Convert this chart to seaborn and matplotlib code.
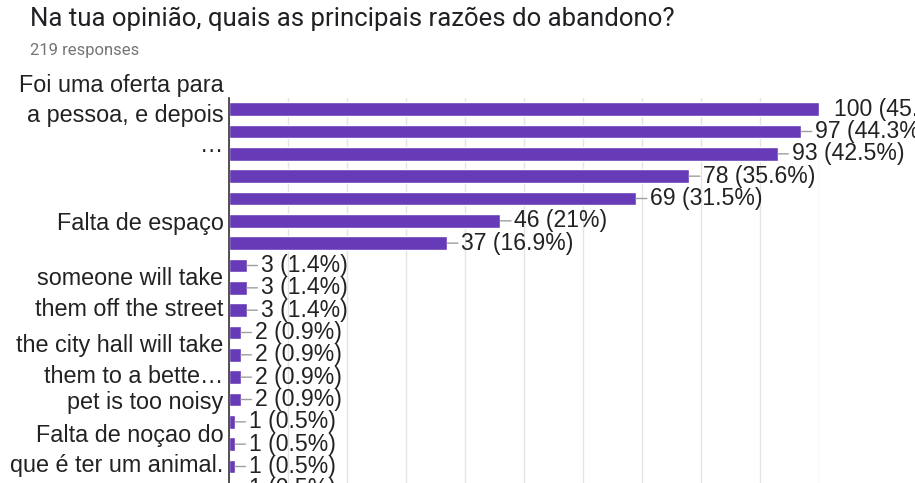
import pandas as pd
import numpy as np
import seaborn as sns
import matplotlib.pyplot as plt

# data (Google Forms summary, cropped)
title = "Na tua opinião, quais as principais razões do abandono?"
n_responses = 219
counts = [100, 97, 93, 78, 69, 46, 37, 3, 3, 3, 2, 2, 2, 2, 1, 1, 1, 1]
# only some category labels are visible in the chart, the rest are hidden
shown_labels = [
    "Foi uma oferta para\na pessoa, e depois\n…", "", "", "", "",
    "Falta de espaço", "", "",
    "someone will take\nthem off the street", "", "",
    "the city hall will take\nthem to a bette…", "",
    "pet is too noisy", "",
    "Falta de noçao do\nque é ter um animal.", "", "",
]
x_ticks = list(range(0, 101, 10))


def fmt_label(c, total):
    pct = f"{100 * c / total:.1f}"
    if pct.endswith(".0"):
        pct = pct[:-2]
    return f"{c} ({pct}%)"


df = pd.DataFrame({"key": [f"r{i}" for i in range(len(counts))], "count": counts})

sns.set_theme(style="white")
plt.rcParams["font.family"] = ["Liberation Sans", "DejaVu Sans"]

fig, ax = plt.subplots(figsize=(9.15, 4.83), dpi=100)
# plot area runs past the bottom edge, as in the cropped screenshot
ax.set_position([229 / 915, 1 - 500 / 483, 590 / 915, 402 / 483])

sns.barplot(data=df, x="count", y="key", orient="h", color="#673ab7",
            saturation=1, width=0.6, ax=ax, zorder=3)

ax.set_xlim(0, 100)
ax.set_ylim(len(counts) - 0.5, -0.5)
ax.set_xticks(x_ticks)
ax.set_xticklabels([])
ax.xaxis.grid(True, color="#e4e4e4", lw=1, zorder=0)
ax.set_axisbelow(True)
ax.set_xlabel("")
ax.set_ylabel("")
ax.set_yticks(range(len(counts)))
ax.set_yticklabels(shown_labels, fontsize=16.8, color="#222222", linespacing=1.4)
ax.tick_params(axis="both", length=0, pad=4)

for s in ["top", "right", "bottom"]:
    ax.spines[s].set_visible(False)
ax.spines["left"].set_color("#333333")
ax.spines["left"].set_linewidth(1.2)
ax.spines["left"].set_zorder(4)

for i, c in enumerate(counts):
    kw = {}
    if c < ax.get_xlim()[1]:
        kw["arrowprops"] = dict(arrowstyle="-", color="#9e9e9e", lw=1,
                                shrinkA=0, shrinkB=0)
        off = 10
    else:
        off = 11
    ax.annotate(fmt_label(c, n_responses), xy=(c, i), xytext=(off, 0),
                textcoords="offset points", va="center", ha="left",
                fontsize=16.6, color="#222222", annotation_clip=False, **kw)

fig.text(30 / 915, 1 - 26 / 483, title, fontsize=18.5, family="Roboto",
         color="#202124", va="baseline", ha="left")
fig.text(30 / 915, 1 - 55 / 483, f"{n_responses} responses", fontsize=12,
         family="Roboto", color="#757575", va="baseline", ha="left")

fig.savefig("out.png", dpi=100)
